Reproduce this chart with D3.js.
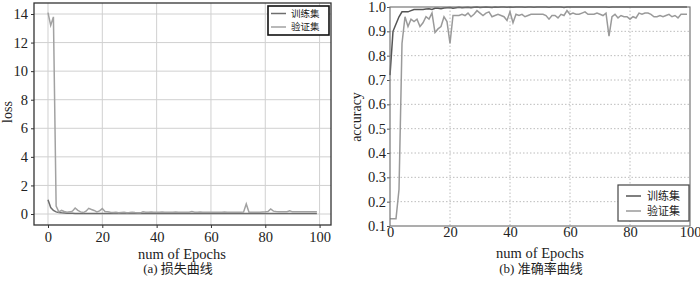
<!DOCTYPE html>
<html>
<head>
<meta charset="utf-8">
<script src="https://cdn.jsdelivr.net/npm/d3@7"></script>
<style>
  body { margin: 0; background: #fff; }
  svg text { font-family: "Liberation Serif", "Noto Sans CJK SC", serif; fill: #222; }
</style>
</head>
<body>
<div id="chart"></div>
<script>
// epochs 0..99
var epochs = d3.range(100);

var trainLoss = [1.0, 0.45, 0.25, 0.15, 0.1, 0.08, 0.07, 0.06, 0.05, 0.05,
  0.04, 0.04, 0.04, 0.035, 0.035, 0.03, 0.03, 0.03, 0.03, 0.03,
  0.03, 0.03, 0.03, 0.03, 0.03, 0.03, 0.03, 0.03, 0.03, 0.03,
  0.03, 0.03, 0.03, 0.03, 0.03, 0.03, 0.03, 0.03, 0.03, 0.03,
  0.03, 0.03, 0.03, 0.03, 0.03, 0.03, 0.03, 0.03, 0.03, 0.03,
  0.03, 0.03, 0.03, 0.03, 0.03, 0.03, 0.03, 0.03, 0.03, 0.03,
  0.03, 0.03, 0.03, 0.03, 0.03, 0.03, 0.03, 0.03, 0.03, 0.03,
  0.03, 0.03, 0.03, 0.03, 0.03, 0.03, 0.03, 0.03, 0.03, 0.03,
  0.03, 0.03, 0.03, 0.03, 0.03, 0.03, 0.03, 0.03, 0.03, 0.03,
  0.03, 0.03, 0.03, 0.03, 0.03, 0.03, 0.03, 0.03, 0.03, 0.03];

var valLoss = [14.1, 13.2, 13.8, 0.55, 0.15, 0.25, 0.18, 0.12, 0.15, 0.2,
  0.42, 0.25, 0.15, 0.1, 0.2, 0.4, 0.32, 0.25, 0.15, 0.22,
  0.38, 0.18, 0.15, 0.12, 0.1, 0.12, 0.08, 0.1, 0.12, 0.09,
  0.1, 0.13, 0.1, 0.09, 0.08, 0.15, 0.13, 0.12, 0.14, 0.12,
  0.13, 0.12, 0.14, 0.12, 0.13, 0.12, 0.12, 0.14, 0.13, 0.12,
  0.12, 0.13, 0.12, 0.17, 0.13, 0.12, 0.14, 0.12, 0.13, 0.12,
  0.13, 0.12, 0.12, 0.13, 0.12, 0.14, 0.12, 0.12, 0.13, 0.12,
  0.12, 0.12, 0.13, 0.7, 0.12, 0.13, 0.12, 0.12, 0.13, 0.14,
  0.15, 0.17, 0.35, 0.2, 0.17, 0.16, 0.15, 0.15, 0.16, 0.22,
  0.15, 0.15, 0.15, 0.15, 0.15, 0.15, 0.15, 0.15, 0.15, 0.15];

var trainAcc = [0.72, 0.9, 0.93, 0.96, 0.98, 0.98, 0.98, 0.985, 0.99, 0.99,
  0.99, 0.99, 0.992, 0.993, 0.99, 0.995, 0.995, 0.993, 0.996, 0.997,
  0.998, 0.995, 0.997, 0.999, 0.997, 0.998, 0.999, 0.997, 0.999, 1.0,
  0.998, 0.999, 1.0, 0.999, 0.998, 1.0, 0.999, 1.0, 1.0, 0.999,
  1.0, 0.999, 1.0, 1.0, 1.0, 0.999, 1.0, 1.0, 0.999, 1.0,
  1.0, 1.0, 1.0, 0.999, 1.0, 1.0, 1.0, 1.0, 0.998, 1.0,
  1.0, 1.0, 1.0, 1.0, 1.0, 1.0, 1.0, 1.0, 1.0, 1.0,
  1.0, 1.0, 1.0, 0.999, 1.0, 1.0, 1.0, 1.0, 1.0, 1.0,
  1.0, 1.0, 1.0, 1.0, 1.0, 1.0, 1.0, 1.0, 1.0, 1.0,
  1.0, 1.0, 1.0, 1.0, 1.0, 1.0, 1.0, 1.0, 1.0, 1.0];

var valAcc = [0.13, 0.13, 0.13, 0.25, 0.85, 0.96, 0.92, 0.95, 0.94, 0.95,
  0.92, 0.935, 0.96, 0.95, 0.975, 0.895, 0.91, 0.92, 0.96, 0.94,
  0.85, 0.965, 0.965, 0.965, 0.97, 0.965, 0.975, 0.96, 0.97, 0.985,
  0.975, 0.965, 0.975, 0.98, 0.96, 0.965, 0.97, 0.965, 0.96, 0.945,
  0.98, 0.935, 0.97, 0.965, 0.97, 0.96, 0.965, 0.97, 0.97, 0.97,
  0.97, 0.97, 0.965, 0.95, 0.965, 0.965, 0.955, 0.97, 0.965, 0.985,
  0.97, 0.975, 0.97, 0.97, 0.975, 0.98, 0.97, 0.97, 0.97, 0.975,
  0.97, 0.965, 0.975, 0.88, 0.96, 0.97, 0.955, 0.965, 0.96, 0.96,
  0.95, 0.96, 0.955, 0.975, 0.97, 0.975, 0.975, 0.97, 0.96, 0.96,
  0.965, 0.96, 0.965, 0.97, 0.96, 0.965, 0.955, 0.97, 0.97, 0.97];

var seriesNames = ["训练集", "验证集"];
var lossTicksY = [0, 2, 4, 6, 8, 10, 12, 14];
var accTicksY = [0.1, 0.2, 0.3, 0.4, 0.5, 0.6, 0.7, 0.8, 0.9, 1.0];
var xTicks = [0, 20, 40, 60, 80, 100];

var svg = d3.select("#chart").append("svg")
  .attr("width", 700)
  .attr("height", 283);

// ---------- (a) loss ----------
var L = {left: 34, right: 331, top: 3, bottom: 225};

var xL = d3.scaleLinear().domain([-5.15, 104.2]).range([L.left, L.right]);
var yL = d3.scaleLinear().domain([-0.77, 14.77]).range([L.bottom, L.top]);

var gL = svg.append("g");

// grid
gL.selectAll(".gx").data(xTicks).enter().append("line")
  .attr("x1", d => xL(d)).attr("x2", d => xL(d))
  .attr("y1", L.top).attr("y2", L.bottom)
  .attr("stroke", "#d0d0d0").attr("stroke-width", 1);
gL.selectAll(".gy").data(lossTicksY).enter().append("line")
  .attr("y1", d => yL(d)).attr("y2", d => yL(d))
  .attr("x1", L.left).attr("x2", L.right)
  .attr("stroke", "#d0d0d0").attr("stroke-width", 1);

var lineLoss = function(arr){
  return d3.line().x((d, i) => xL(epochs[i])).y(d => yL(d))(arr);
};

gL.append("path").attr("d", lineLoss(trainLoss))
  .attr("fill", "none").attr("stroke", "#6e6e6e").attr("stroke-width", 1.5);
gL.append("path").attr("d", lineLoss(valLoss))
  .attr("fill", "none").attr("stroke", "#a2a2a2").attr("stroke-width", 1.5);

// axes
var axBL = gL.append("g")
  .attr("transform", "translate(0," + L.bottom + ")")
  .call(d3.axisBottom(xL).tickValues(xTicks).tickSize(3).tickPadding(4));
var axLL = gL.append("g")
  .attr("transform", "translate(" + L.left + ",0)")
  .call(d3.axisLeft(yL).tickValues(lossTicksY).tickSize(3).tickPadding(3));
[axBL, axLL].forEach(function(a){
  a.select(".domain").remove();
  a.selectAll("text").style("font-size", "14.5px").attr("fill", "#222");
  a.selectAll("line").attr("stroke", "#333");
});

gL.append("rect")
  .attr("x", L.left).attr("y", L.top)
  .attr("width", L.right - L.left).attr("height", L.bottom - L.top)
  .attr("fill", "none").attr("stroke", "#333").attr("stroke-width", 1.3);

gL.append("text").text("loss")
  .attr("transform", "translate(12,112) rotate(-90)")
  .attr("text-anchor", "middle").style("font-size", "14px");
gL.append("text").text("num of Epochs")
  .attr("x", 182).attr("y", 259)
  .attr("text-anchor", "middle").style("font-size", "14.5px");
gL.append("text").text("(a) 损失曲线")
  .attr("x", 178).attr("y", 273)
  .attr("text-anchor", "middle").style("font-size", "13px");

// legend
var legL = gL.append("g");
legL.append("rect")
  .attr("x", 268).attr("y", 6).attr("width", 61).attr("height", 29)
  .attr("fill", "#fff").attr("stroke", "#111").attr("stroke-width", 1.6);
[["#6e6e6e", 13.5], ["#a2a2a2", 27]].forEach(function(c, i){
  legL.append("line").attr("x1", 271).attr("x2", 286)
    .attr("y1", c[1]).attr("y2", c[1])
    .attr("stroke", c[0]).attr("stroke-width", 1.5);
  legL.append("text").text(seriesNames[i])
    .attr("x", 291).attr("y", c[1] + 3.3)
    .style("font-size", "9.5px").style("font-family", "Noto Sans CJK SC");
});

// ---------- (b) accuracy ----------
var R = {left: 390, right: 690, top: 7, bottom: 226};

var xR = d3.scaleLinear().domain([0, 100]).range([R.left, R.right]);
var yR = d3.scaleLinear().domain([0.1, 1.0]).range([R.bottom, R.top]);

var gR = svg.append("g");

gR.selectAll(".gx").data(xTicks.slice(1, -1)).enter().append("line")
  .attr("x1", d => xR(d)).attr("x2", d => xR(d))
  .attr("y1", R.top).attr("y2", R.bottom)
  .attr("stroke", "#bcbcbc").attr("stroke-width", 1).attr("stroke-dasharray", "1.5,2");
gR.selectAll(".gy").data(accTicksY.slice(1, -1)).enter().append("line")
  .attr("y1", d => yR(d)).attr("y2", d => yR(d))
  .attr("x1", R.left).attr("x2", R.right)
  .attr("stroke", "#bcbcbc").attr("stroke-width", 1).attr("stroke-dasharray", "1.5,2");

var lineAcc = function(arr){
  return d3.line().x((d, i) => xR(epochs[i])).y(d => yR(d))(arr);
};

gR.append("path").attr("d", lineAcc(trainAcc))
  .attr("fill", "none").attr("stroke", "#555").attr("stroke-width", 1.5);
gR.append("path").attr("d", lineAcc(valAcc))
  .attr("fill", "none").attr("stroke", "#9a9a9a").attr("stroke-width", 1.5);

var axBR = gR.append("g")
  .attr("transform", "translate(0," + R.bottom + ")")
  .call(d3.axisBottom(xR).tickValues(xTicks).tickSize(0).tickPadding(1));
var axLR = gR.append("g")
  .attr("transform", "translate(" + R.left + ",0)")
  .call(d3.axisLeft(yR).tickValues(accTicksY).tickFormat(d3.format(".1f")).tickSize(3).tickPadding(1));
[axBR, axLR].forEach(function(a){
  a.select(".domain").remove();
  a.selectAll("text").style("font-size", "14.5px").attr("fill", "#222");
  a.selectAll("line").attr("stroke", "#555");
});

gR.append("rect")
  .attr("x", R.left).attr("y", R.top)
  .attr("width", R.right - R.left).attr("height", R.bottom - R.top)
  .attr("fill", "none").attr("stroke", "#777").attr("stroke-width", 1.2);

gR.append("text").text("accuracy")
  .attr("transform", "translate(361,117) rotate(-90)")
  .attr("text-anchor", "middle").style("font-size", "14px");
gR.append("text").text("num of Epochs")
  .attr("x", 540).attr("y", 258)
  .attr("text-anchor", "middle").style("font-size", "14.5px");
gR.append("text").text("(b) 准确率曲线")
  .attr("x", 541).attr("y", 273)
  .attr("text-anchor", "middle").style("font-size", "13px");

var legR = gR.append("g");
legR.append("rect")
  .attr("x", 618).attr("y", 185).attr("width", 71).attr("height", 36)
  .attr("fill", "#fff").attr("stroke", "#444").attr("stroke-width", 1.2);
[["#555", 196], ["#9a9a9a", 211]].forEach(function(c, i){
  legR.append("line").attr("x1", 626).attr("x2", 641)
    .attr("y1", c[1]).attr("y2", c[1])
    .attr("stroke", c[0]).attr("stroke-width", 1.5);
  legR.append("text").text(seriesNames[i])
    .attr("x", 647).attr("y", c[1] + 4)
    .style("font-size", "11px").style("font-family", "Noto Sans CJK SC");
});
</script>
</body>
</html>
